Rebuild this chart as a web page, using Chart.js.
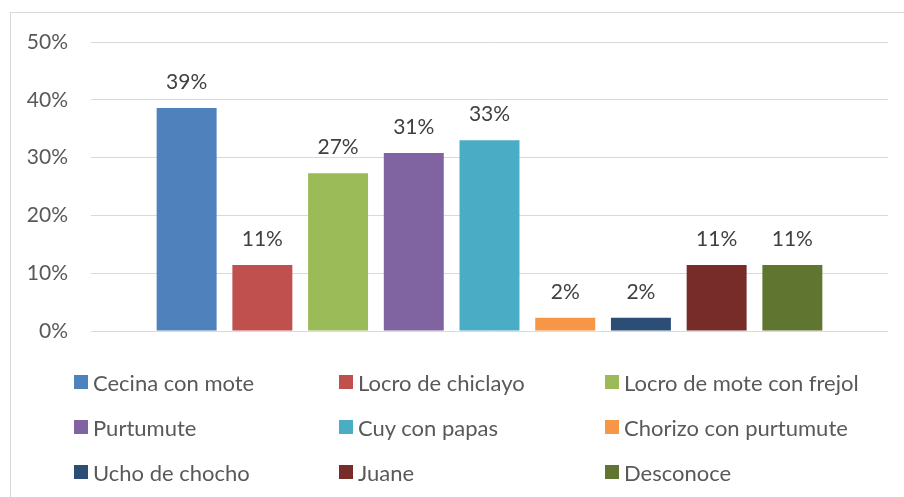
<!DOCTYPE html>
<html>
<head>
<meta charset="utf-8">
<script src="https://cdn.jsdelivr.net/npm/chart.js@4"></script>
<style>
  html, body { margin: 0; padding: 0; background: #fff; }
  #wrap { position: relative; width: 904px; height: 497px; overflow: hidden; }
  #c { position: absolute; left: 0; top: 0; }
  .leg { position: absolute; display: flex; align-items: center; height: 24px;
         font-family: Lato, "Open Sans", sans-serif; font-size: 22px; color: #595959; white-space: nowrap; }
  .sw { width: 14px; height: 14px; margin-right: 5px; flex: none; }
</style>
</head>
<body>
<div id="wrap">
  <canvas id="c" width="904" height="497"></canvas>
</div>
<script>
const categories = ["Cecina con mote", "Locro de chiclayo", "Locro de mote con frejol",
                    "Purtumute", "Cuy con papas", "Chorizo con purtumute",
                    "Ucho de chocho", "Juane", "Desconoce"];
const values = [38.6, 11.4, 27.3, 30.8, 33.0, 2.3, 2.3, 11.4, 11.4];
const colors = ["#4F81BD", "#C0504D", "#9BBB59", "#8064A2", "#4BACC6",
                "#F79646", "#2C4D75", "#772C2A", "#5F7530"];
const yTicks = [0, 10, 20, 30, 40, 50];

const FONT = 'Lato, "Open Sans", sans-serif';

const datasets = categories.map((name, i) => ({
  label: name,
  data: [values[i]],
  backgroundColor: colors[i],
  borderWidth: 0,
  categoryPercentage: 0.855,
  barPercentage: 0.792
}));

const frame = {
  id: 'frame',
  beforeDraw(chart) {
    const ctx = chart.ctx;
    ctx.save();
    ctx.fillStyle = '#fff';
    ctx.fillRect(0, 0, chart.width, chart.height);
    ctx.strokeStyle = '#d9d9d9';
    ctx.lineWidth = 1;
    ctx.strokeRect(10.5, 12.5, 1200, 1200);
    ctx.restore();
  }
};

const valueLabels = {
  id: 'valueLabels',
  afterDatasetsDraw(chart) {
    const ctx = chart.ctx;
    ctx.save();
    ctx.font = '21px ' + FONT;
    ctx.fillStyle = '#404040';
    ctx.textAlign = 'center';
    ctx.textBaseline = 'alphabetic';
    chart.data.datasets.forEach((ds, i) => {
      const el = chart.getDatasetMeta(i).data[0];
      ctx.fillText(Math.round(ds.data[0]) + '%', el.x, el.y - 19);
    });
    ctx.restore();
  }
};

new Chart(document.getElementById('c'), {
  type: 'bar',
  data: { labels: [''], datasets },
  options: {
    responsive: false,
    animation: false,
    events: [],
    layout: { padding: { left: 0, right: 16, top: 42, bottom: 166 } },
    plugins: { legend: { display: false }, tooltip: { enabled: false } },
    scales: {
      x: {
        grid: { display: false },
        border: { display: false },
        ticks: { display: false },
        afterFit(s) { s.height = 0; }
      },
      y: {
        min: 0, max: 50,
        afterBuildTicks(s) { s.ticks = yTicks.map(v => ({ value: v })); },
        afterFit(s) { s.width = 91; },
        grid: { color: '#d9d9d9', lineWidth: 1, drawTicks: false },
        border: { display: false },
        ticks: {
          padding: 23,
          color: '#595959',
          font: { family: FONT, size: 21 },
          callback: v => v + '%'
        }
      }
    }
  },
  plugins: [frame, valueLabels]
});

// HTML legend (3 columns)
const colX = [74, 339, 605];
const rowY = [382, 427, 472];
const wrap = document.getElementById('wrap');
categories.forEach((name, i) => {
  const d = document.createElement('div');
  d.className = 'leg';
  d.style.left = colX[i % 3] + 'px';
  d.style.top = (rowY[Math.floor(i / 3)] - 12) + 'px';
  const sw = document.createElement('span');
  sw.className = 'sw';
  sw.style.background = colors[i];
  const t = document.createElement('span');
  t.textContent = name;
  d.appendChild(sw);
  d.appendChild(t);
  wrap.appendChild(d);
});
</script>
</body>
</html>
